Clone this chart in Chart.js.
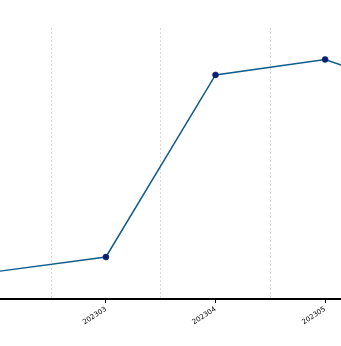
<!DOCTYPE html>
<html>
<head>
<meta charset="utf-8">
<script src="https://cdn.jsdelivr.net/npm/chart.js@4/dist/chart.umd.min.js"></script>
<style>
  html, body { margin: 0; padding: 0; width: 341px; height: 346px; overflow: hidden; background: #fff; }
  #wrap { position: absolute; left: -63px; top: 0; width: 557px; height: 346px; }
</style>
</head>
<body>
<div id="wrap"><canvas id="lineChart"></canvas></div>
<script>
// months (only 202303..202305 fall inside the visible window)
const months = ['202302', '202303', '202304', '202305', '202306'];
const values = [10.1, 15.5, 82.7, 88.4, 74.5];
const yMin = 0;
const yMax = 100;

const ctx = document.getElementById('lineChart');
new Chart(ctx, {
  type: 'line',
  data: {
    labels: months,
    datasets: [{
      data: values,
      borderColor: '#0e5c8c',
      borderWidth: 1.5,
      pointBackgroundColor: '#0a1f70',
      pointBorderColor: '#0a1f70',
      pointRadius: 3,
      pointBorderWidth: 0.5,
      tension: 0,
      fill: false
    }]
  },
  options: {
    responsive: true,
    maintainAspectRatio: false,
    animation: false,
    layout: { padding: { top: 28, left: 0, right: 0, bottom: 0 } },
    plugins: { legend: { display: false }, tooltip: { enabled: false } },
    scales: {
      x: {
        offset: true,
        grid: { offset: false, drawOnChartArea: false, tickLength: 4, tickColor: '#000', tickWidth: 1 },
        border: { display: true, color: '#000', width: 2 },
        ticks: {
          color: '#000',
          font: { size: 7, family: 'DejaVu Sans' },
          minRotation: 33,
          maxRotation: 33,
          padding: 2,
          autoSkip: false
        },
        afterFit: s => { s.height = 47; }
      },
      x2: {
        type: 'category',
        position: 'top',
        offset: true,
        grid: { offset: true, drawTicks: false, color: '#d9d9d9', lineWidth: 1 },
        border: { display: false, dash: [2, 2] },
        ticks: { display: false },
        afterFit: s => { s.height = 0; }
      },
      y: {
        display: false,
        min: yMin,
        max: yMax
      }
    }
  }
});
</script>
</body>
</html>
